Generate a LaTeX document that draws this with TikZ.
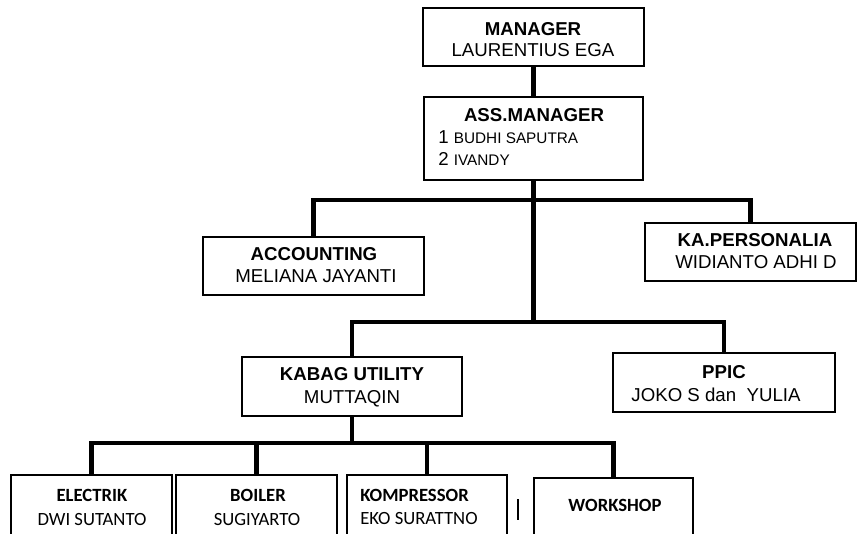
\documentclass[tikz,border=0pt]{standalone}
\usepackage{fontspec}
\setmainfont{Liberation Sans}
\newfontfamily\calib{Carlito}
\usetikzlibrary{fit}

\tikzset{
  box/.style={draw, line width=1.4pt, inner sep=0pt},
  link/.style={line width=3.4pt, line join=miter},
  lbl/.style={inner sep=0pt, text height=10pt, text depth=0pt, font=\fontsize{14}{16}\selectfont},
  blbl/.style={lbl, font=\fontsize{14}{16}\selectfont\bfseries},
  clbl/.style={lbl, text height=9pt, font=\fontsize{14}{16}\selectfont\calib},
  cblbl/.style={clbl, font=\fontsize{14}{16}\selectfont\calib\bfseries}
}

\begin{document}
\begin{tikzpicture}[x=0.75pt,y=0.75pt,yscale=-1,xscale=1]
        \useasboundingbox (0,0) rectangle (857,534);
        \clip (0,0) rectangle (857,534);

        % Boxes
        \node[box, fit={(423,8) (644,66)}] (man) {};
        \node[box, fit={(424,97) (643,180)}] (ass) {};
        \node[box, fit={(203,237) (424,295)}] (acc) {};
        \node[box, fit={(645,223) (856,281)}] (pers) {};
        \node[box, fit={(242,357) (462,416)}] (kab) {};
        \node[box, fit={(613,353) (835,412)}] (ppic) {};
        \node[box, fit={(11,475) (172,545)}] (ele) {};
        \node[box, fit={(176,475) (337,545)}] (boi) {};
        \node[box, fit={(347,475) (507,545)}] (kom) {};
        \node[box, fit={(534,478) (693,545)}] (wor) {};

        % Junctions
        \coordinate (j1) at (533.5,200);
        \coordinate (j2) at (533.5,322);
        \coordinate (j3) at (352,443);

        % Connectors
        \draw[link] (man.south) -- (ass.north);
        \draw[link] (ass.south) -- (j2);
        \draw[link] (acc.north) |- (j1) -| (pers.north);
        \draw[link] (kab.north) |- (j2) -| (ppic.north);
        \draw[link] (kab.south) -- (j3);
        \draw[link] (ele.north) |- (j3) -| (wor.north);
        \draw[link] (boi.north) -- (boi.north |- j3);
        \draw[link] (kom.north) -- (kom.north |- j3);

        % Text Nodes
        \node[blbl] (man-t) at (533,29) {MANAGER};
        \node[lbl] (man-n) at (533,50) {LAURENTIUS EGA};
        \node[blbl] (ass-t) at (534,115) {ASS.MANAGER};
        \node[lbl, anchor=west] (ass-a) at (438,137) {\fontsize{14}{16}\selectfont 1 \fontsize{11.5}{13}\selectfont BUDHI SAPUTRA};
        \node[lbl, anchor=west] (ass-b) at (438,159) {\fontsize{14}{16}\selectfont 2 \fontsize{11.5}{13}\selectfont IVANDY};
        \node[blbl] (acc-t) at (314,254) {ACCOUNTING};
        \node[lbl] (acc-n) at (316,276) {MELIANA JAYANTI};
        \node[blbl] (pers-t) at (755,240) {KA.PERSONALIA};
        \node[lbl] (pers-n) at (756,262) {WIDIANTO ADHI D};
        \node[blbl] (kab-t) at (352,374) {KABAG UTILITY};
        \node[lbl] (kab-n) at (352,397) {MUTTAQIN};
        \node[blbl] (ppic-t) at (724,372) {PPIC};
        \node[lbl] (ppic-n) at (716,395) {JOKO S dan\ \ YULIA};
        \node[cblbl] (ele-t) at (92,496) {ELECTRIK};
        \node[clbl] (ele-n) at (92,519) {DWI SUTANTO};
        \node[cblbl] (boi-t) at (258,496) {BOILER};
        \node[clbl] (boi-n) at (257,519) {SUGIYARTO};
        \node[cblbl, anchor=west] (kom-t) at (360,496) {KOMPRESSOR};
        \node[clbl, anchor=west] (kom-n) at (360,518) {EKO SURATTNO};
        \node[cblbl] (wor-t) at (615,506) {WORKSHOP};

        % cursor mark
        \draw[line width=0.8pt] (518,499) -- (518,520);
\end{tikzpicture}
\end{document}
